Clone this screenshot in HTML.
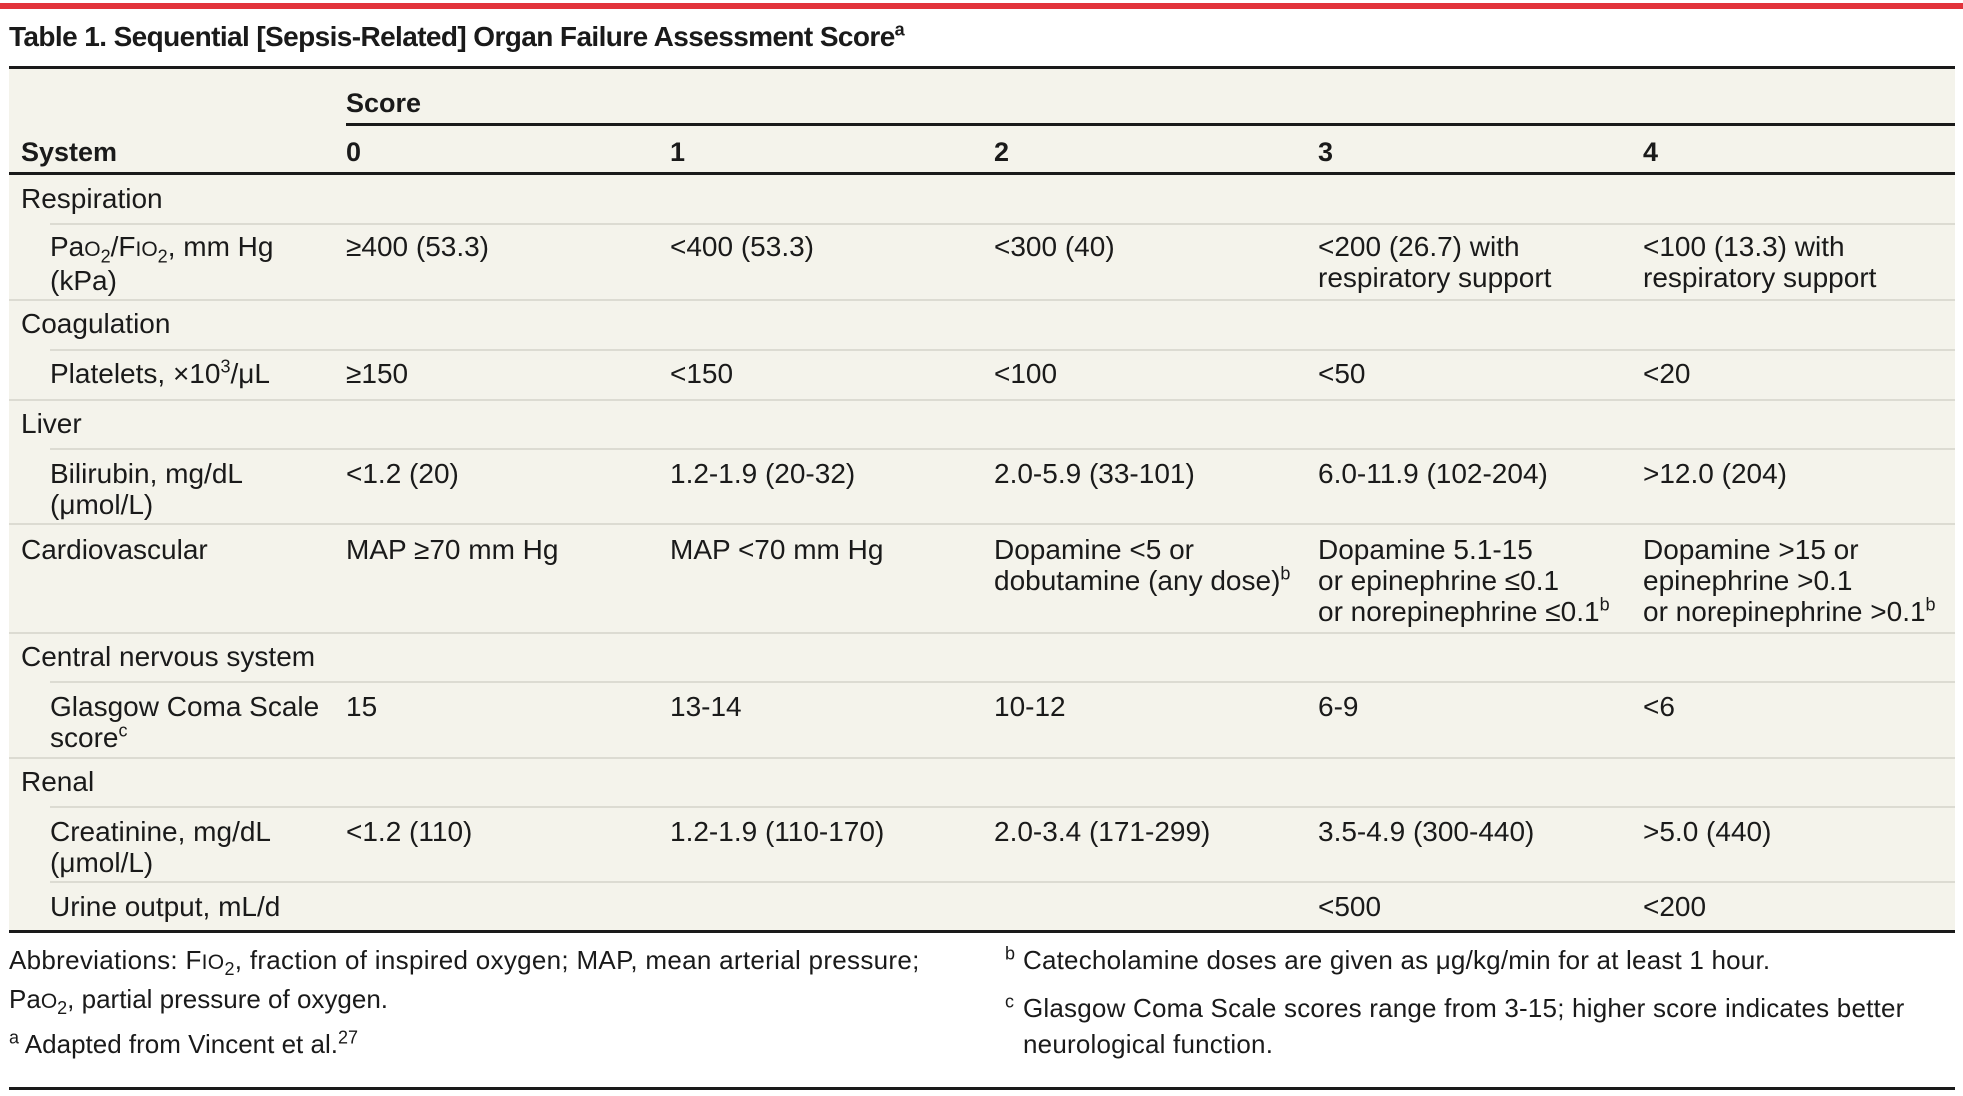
<!DOCTYPE html>
<html><head><meta charset="utf-8"><style>
html,body{margin:0;padding:0;background:#fff;}
body{width:1963px;height:1096px;position:relative;overflow:hidden;font-family:"Liberation Sans",sans-serif;color:#1a1a1a;}
.a{position:absolute;white-space:nowrap;font-size:28px;line-height:31px;}
.f{font-size:26px;}
.h{font-weight:bold;}
.l{position:absolute;}
sup,sub{font-size:18px;line-height:0;}
.sc{font-size:21px;}
</style></head><body>
<div class="l" style="left:0;top:3px;width:1963px;height:6px;background:#e2333b"></div>
<div class="a h" style="left:9px;top:20px;font-size:28px;line-height:34px;letter-spacing:-0.6px">Table 1. Sequential [Sepsis-Related] Organ Failure Assessment Score<sup>a</sup></div>
<div class="l" style="left:9px;top:66px;width:1946px;height:3px;background:#1a1a1a"></div>
<div class="l" style="left:9px;top:69px;width:1946px;height:864px;background:#f4f3eb"></div>
<div class="l" style="left:346px;top:123px;width:1609px;height:3px;background:#1a1a1a"></div>
<div class="l" style="left:9px;top:172px;width:1946px;height:3px;background:#1a1a1a"></div>
<div class="l" style="left:9px;top:930px;width:1946px;height:3px;background:#1a1a1a"></div>
<div class="l" style="left:9px;top:1087px;width:1946px;height:3px;background:#1a1a1a"></div>
<div class="l" style="left:50px;top:223px;width:1905px;height:2px;background:#dcdbd2"></div>
<div class="l" style="left:9px;top:299px;width:1946px;height:2px;background:#dcdbd2"></div>
<div class="l" style="left:50px;top:349px;width:1905px;height:2px;background:#dcdbd2"></div>
<div class="l" style="left:9px;top:399px;width:1946px;height:2px;background:#dcdbd2"></div>
<div class="l" style="left:50px;top:448px;width:1905px;height:2px;background:#dcdbd2"></div>
<div class="l" style="left:9px;top:523px;width:1946px;height:2px;background:#dcdbd2"></div>
<div class="l" style="left:9px;top:632px;width:1946px;height:2px;background:#dcdbd2"></div>
<div class="l" style="left:50px;top:681px;width:1905px;height:2px;background:#dcdbd2"></div>
<div class="l" style="left:9px;top:757px;width:1946px;height:2px;background:#dcdbd2"></div>
<div class="l" style="left:50px;top:806px;width:1905px;height:2px;background:#dcdbd2"></div>
<div class="l" style="left:50px;top:881px;width:1905px;height:2px;background:#dcdbd2"></div>
<div class="a h" style="left:346px;top:88px;font-size:27px">Score</div>
<div class="a h" style="left:21px;top:137px;font-size:27px">System</div>
<div class="a h" style="left:346px;top:137px;font-size:27px">0</div>
<div class="a h" style="left:670px;top:137px;font-size:27px">1</div>
<div class="a h" style="left:994px;top:137px;font-size:27px">2</div>
<div class="a h" style="left:1318px;top:137px;font-size:27px">3</div>
<div class="a h" style="left:1643px;top:137px;font-size:27px">4</div>
<div class="a" style="left:21px;top:183px">Respiration</div>
<div class="a" style="left:50px;top:231px">Pa<span class="sc">O</span><sub>2</sub>/F<span class="sc">IO</span><sub>2</sub>, mm Hg<br>(kPa)</div>
<div class="a" style="left:346px;top:231px">≥400 (53.3)</div>
<div class="a" style="left:670px;top:231px">&lt;400 (53.3)</div>
<div class="a" style="left:994px;top:231px">&lt;300 (40)</div>
<div class="a" style="left:1318px;top:231px">&lt;200 (26.7) with<br>respiratory support</div>
<div class="a" style="left:1643px;top:231px">&lt;100 (13.3) with<br>respiratory support</div>
<div class="a" style="left:21px;top:308px">Coagulation</div>
<div class="a" style="left:50px;top:358px">Platelets, ×10<sup>3</sup>/μL</div>
<div class="a" style="left:346px;top:358px">≥150</div>
<div class="a" style="left:670px;top:358px">&lt;150</div>
<div class="a" style="left:994px;top:358px">&lt;100</div>
<div class="a" style="left:1318px;top:358px">&lt;50</div>
<div class="a" style="left:1643px;top:358px">&lt;20</div>
<div class="a" style="left:21px;top:408px">Liver</div>
<div class="a" style="left:50px;top:458px">Bilirubin, mg/dL<br>(μmol/L)</div>
<div class="a" style="left:346px;top:458px">&lt;1.2 (20)</div>
<div class="a" style="left:670px;top:458px">1.2-1.9 (20-32)</div>
<div class="a" style="left:994px;top:458px">2.0-5.9 (33-101)</div>
<div class="a" style="left:1318px;top:458px">6.0-11.9 (102-204)</div>
<div class="a" style="left:1643px;top:458px">&gt;12.0 (204)</div>
<div class="a" style="left:21px;top:534px">Cardiovascular</div>
<div class="a" style="left:346px;top:534px">MAP ≥70 mm Hg</div>
<div class="a" style="left:670px;top:534px">MAP &lt;70 mm Hg</div>
<div class="a" style="left:994px;top:534px">Dopamine &lt;5 or<br>dobutamine (any dose)<sup>b</sup></div>
<div class="a" style="left:1318px;top:534px">Dopamine 5.1-15<br>or epinephrine ≤0.1<br>or norepinephrine ≤0.1<sup>b</sup></div>
<div class="a" style="left:1643px;top:534px">Dopamine &gt;15 or<br>epinephrine &gt;0.1<br>or norepinephrine &gt;0.1<sup>b</sup></div>
<div class="a" style="left:21px;top:641px">Central nervous system</div>
<div class="a" style="left:50px;top:691px">Glasgow Coma Scale<br>score<sup>c</sup></div>
<div class="a" style="left:346px;top:691px">15</div>
<div class="a" style="left:670px;top:691px">13-14</div>
<div class="a" style="left:994px;top:691px">10-12</div>
<div class="a" style="left:1318px;top:691px">6-9</div>
<div class="a" style="left:1643px;top:691px">&lt;6</div>
<div class="a" style="left:21px;top:766px">Renal</div>
<div class="a" style="left:50px;top:816px">Creatinine, mg/dL<br>(μmol/L)</div>
<div class="a" style="left:346px;top:816px">&lt;1.2 (110)</div>
<div class="a" style="left:670px;top:816px">1.2-1.9 (110-170)</div>
<div class="a" style="left:994px;top:816px">2.0-3.4 (171-299)</div>
<div class="a" style="left:1318px;top:816px">3.5-4.9 (300-440)</div>
<div class="a" style="left:1643px;top:816px">&gt;5.0 (440)</div>
<div class="a" style="left:50px;top:891px">Urine output, mL/d</div>
<div class="a" style="left:1318px;top:891px">&lt;500</div>
<div class="a" style="left:1643px;top:891px">&lt;200</div>
<div class="a f" style="left:9px;top:945px;letter-spacing:0.3px">Abbreviations: F<span class="sc">IO</span><sub>2</sub>, fraction of inspired oxygen; MAP, mean arterial pressure;</div>
<div class="a f" style="left:9px;top:984px">Pa<span class="sc">O</span><sub>2</sub>, partial pressure of oxygen.</div>
<div class="a f" style="left:9px;top:1029px"><sup>a</sup> Adapted from Vincent et al.<sup>27</sup></div>
<div class="a f" style="left:1005px;top:945px"><sup>b</sup></div>
<div class="a f" style="left:1023px;top:945px;letter-spacing:0.2px">Catecholamine doses are given as μg/kg/min for at least 1 hour.</div>
<div class="a f" style="left:1005px;top:993px"><sup>c</sup></div>
<div class="a f" style="left:1023px;top:993px;letter-spacing:0.2px">Glasgow Coma Scale scores range from 3-15; higher score indicates better</div>
<div class="a f" style="left:1023px;top:1029px;letter-spacing:0.2px">neurological function.</div>
</body></html>
